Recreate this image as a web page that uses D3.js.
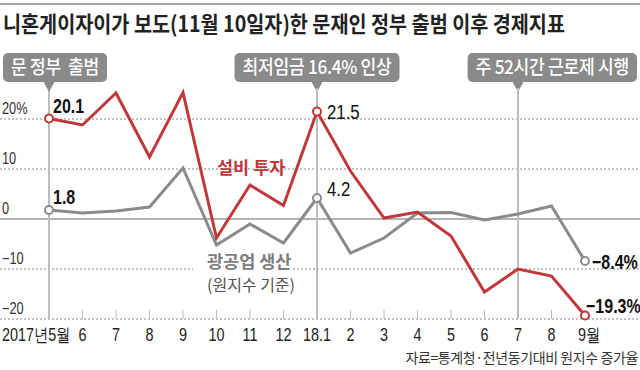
<!DOCTYPE html>
<html>
<head>
<meta charset="utf-8">
<script src="https://cdn.jsdelivr.net/npm/d3@7"></script>
<style>
  body { margin: 0; background: #fff; }
  svg { display: block; }
  .kr { font-family: "Noto Sans CJK KR", sans-serif; }
  .num { font-family: "Liberation Sans", Arial, sans-serif; }
</style>
</head>
<body>
<svg width="640" height="370"></svg>
<script>
// 데이터
const months = ["2017년5월","6","7","8","9","10","11","12","18.1","2","3","4","5","6","7","8","9월"];
const investment = [20.1, 18.8, 25.2, 12.4, 25.3, -3.8, 6.8, 2.7, 21.5, 9.6, 0.2, 1.4, -3.4, -14.6, -10.0, -11.4, -19.3];
const production = [1.8, 1.2, 1.6, 2.4, 10.2, -5.2, -1.0, -4.8, 4.2, -6.8, -3.8, 1.2, 1.3, -0.2, 1.0, 2.6, -8.4];
const yTicks = [20, 10, 0, -10, -20];
const yTickLabels = ["20%", "10", "0", "−10", "−20"];
const events = [
  {i: 0, label: "문 정부  출범", align: "left"},
  {i: 8, label: "최저임금 16.4% 인상", align: "center"},
  {i: 14, label: "주 52시간 근로제 시행", align: "right"}
];
const redColor = "#c0383a", grayColor = "#8b8b8b";

const svg = d3.select("svg");
const W = +svg.attr("width");
const narrow = 0.8;

const x = d3.scalePoint().domain(d3.range(months.length)).range([49, 585]);
const y = d3.scaleLinear().domain([-20, 20]).range([319, 119]);

// 좁은 숫자 글꼴
function numText(parent, px, py, str, size, opts) {
  opts = opts || {};
  const g = parent.append("g").attr("transform", "translate(" + px + "," + py + ") scale(" + narrow + ",1)");
  return g.append("text").attr("class", "num")
    .attr("font-size", size)
    .attr("font-weight", opts.bold ? "bold" : "normal")
    .attr("text-anchor", opts.anchor || "start")
    .attr("fill", opts.fill || "#222")
    .text(str);
}

// 상단 라인
svg.append("line").attr("x1", 0).attr("x2", W).attr("y1", 4).attr("y2", 4)
  .attr("stroke", "#8a8a8a").attr("stroke-width", 1.5);

svg.append("text").attr("class", "kr")
  .attr("x", 3).attr("y", 32)
  .attr("font-size", 22).attr("font-weight", "bold")
  .attr("textLength", 562).attr("lengthAdjust", "spacingAndGlyphs")
  .attr("fill", "#222")
  .text("니혼게이자이가 보도(11월 10일자)한 문재인 정부 출범 이후 경제지표");

// 그리드
const grid = svg.append("g");
yTicks.forEach(function(t) {
  if (t === 0) {
    grid.append("line").attr("x1", 0).attr("x2", W).attr("y1", y(t)).attr("y2", y(t))
      .attr("stroke", "#b4b4b4").attr("stroke-width", 2);
  } else if (t === -10) {
    grid.append("line").attr("x1", 0).attr("x2", 193).attr("y1", y(t)).attr("y2", y(t))
      .attr("stroke", "#888").attr("stroke-width", 1).attr("stroke-dasharray", "2,2");
    grid.append("line").attr("x1", 293).attr("x2", W).attr("y1", y(t)).attr("y2", y(t))
      .attr("stroke", "#888").attr("stroke-width", 1).attr("stroke-dasharray", "2,2");
  } else {
    grid.append("line").attr("x1", 0).attr("x2", W).attr("y1", y(t)).attr("y2", y(t))
      .attr("stroke", "#888").attr("stroke-width", 1).attr("stroke-dasharray", "2,2");
  }
});

yTicks.forEach(function(t, i) {
  numText(grid, 2, y(t) - 5, yTickLabels[i], 16, {fill: "#333"});
});

// x 눈금
const xAxis = svg.append("g");
xAxis.selectAll("line.tick")
  .data(d3.range(months.length))
  .enter().append("line")
  .attr("x1", function(d) { return x(d); })
  .attr("x2", function(d) { return x(d); })
  .attr("y1", 310).attr("y2", 319)
  .attr("stroke", "#bbb").attr("stroke-width", 1);

months.forEach(function(m, i) {
  let px = x(i), anchor = "middle";
  if (i === 0) { px = 2; anchor = "start"; }
  if (i === months.length - 1) { px = x(i) - 7; anchor = "start"; }
  numText(xAxis, px, 341, m, 18, {anchor: anchor});
});

// 이벤트 선 + 말풍선
const ev = svg.append("g");
events.forEach(function(e) {
  const cx = x(e.i);
  ev.append("line").attr("x1", cx).attr("x2", cx).attr("y1", 88).attr("y2", 319)
    .attr("stroke", "#bdbdbd").attr("stroke-width", 2);
  const t = ev.append("text").attr("class", "kr")
    .attr("y", 74).attr("font-size", 19).attr("font-weight", 500)
    .attr("fill", "#fff").attr("letter-spacing", -0.3)
    .style("white-space", "pre")
    .text(e.label);
  let tw = t.node().getComputedTextLength() * 0.9;
  t.attr("textLength", tw).attr("lengthAdjust", "spacingAndGlyphs");
  let bw = tw + 16;
  let bx = cx - bw / 2;
  if (e.align === "left") bx = 3;
  if (e.align === "right") bx = W - 3 - bw;
  t.attr("x", bx + 8);
  ev.insert("rect", "text")
    .attr("x", bx).attr("y", 53).attr("width", bw).attr("height", 29)
    .attr("rx", 5).attr("fill", "#8a8a8a");
  ev.insert("path", "text")
    .attr("d", "M" + (cx - 6) + ",81 L" + cx + ",92 L" + (cx + 6) + ",81 Z")
    .attr("fill", "#8a8a8a");
});

// 선
const line = d3.line()
  .x(function(d, i) { return x(i); })
  .y(function(d) { return y(d); });

svg.append("path").datum(production)
  .attr("fill", "none").attr("stroke", grayColor).attr("stroke-width", 3)
  .attr("d", line);
svg.append("path").datum(investment)
  .attr("fill", "none").attr("stroke", redColor).attr("stroke-width", 3)
  .attr("d", line);

const markIdx = [0, 8, 16];
function dots(data, color) {
  svg.append("g").selectAll("circle")
    .data(markIdx)
    .enter().append("circle")
    .attr("cx", function(i) { return x(i); })
    .attr("cy", function(i) { return y(data[i]); })
    .attr("r", 4)
    .attr("fill", "#fff").attr("stroke", color).attr("stroke-width", 2);
}
dots(production, grayColor);
dots(investment, redColor);

// 값 라벨
const vals = svg.append("g");
const vOpt = {bold: true, fill: "#111"};
numText(vals, x(0) + 4, y(investment[0]) - 6, investment[0].toFixed(1), 20, vOpt);
numText(vals, x(0) + 4, y(production[0]) - 6, production[0].toFixed(1), 20, vOpt);
numText(vals, x(8) + 10, y(investment[8]) + 7, investment[8].toFixed(1), 21, {fill: "#111"});
numText(vals, x(8) + 10, y(production[8]) - 2, production[8].toFixed(1), 21, {fill: "#111"});
numText(vals, x(16) + 7, y(production[16]) + 8, "−" + Math.abs(production[16]) + "%", 20, vOpt);
numText(vals, x(16) + 1, y(investment[16]) - 3, "−" + Math.abs(investment[16]) + "%", 20, vOpt);

// 시리즈 라벨
svg.append("text").attr("class", "kr")
  .attr("x", 217).attr("y", 174)
  .attr("font-size", 17.5).attr("font-weight", "bold").attr("fill", redColor)
  .text("설비 투자");
svg.append("text").attr("class", "kr")
  .attr("x", 207).attr("y", 268)
  .attr("font-size", 17.5).attr("font-weight", "bold").attr("fill", "#7d7d7d")
  .text("광공업 생산");
svg.append("text").attr("class", "kr")
  .attr("x", 207).attr("y", 291)
  .attr("font-size", 16).attr("fill", "#555")
  .text("(원지수 기준)");

// 출처
svg.append("text").attr("class", "kr")
  .attr("x", 638).attr("y", 363).attr("text-anchor", "end")
  .attr("font-size", 14).attr("fill", "#333").attr("letter-spacing", -0.4)
  .text("자료=통계청·전년동기대비 원지수 증가율");
</script>
</body>
</html>
